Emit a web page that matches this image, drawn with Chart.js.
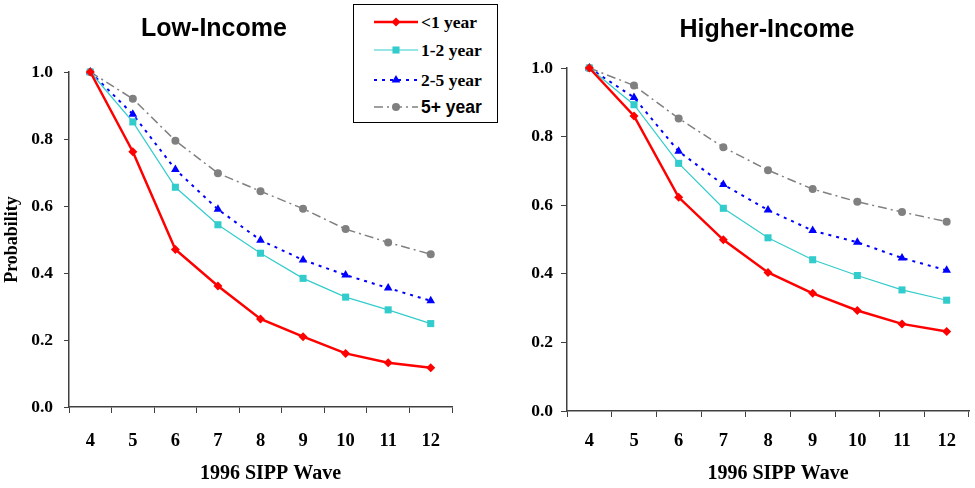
<!DOCTYPE html>
<html>
<head>
<meta charset="utf-8">
<script src="https://cdn.jsdelivr.net/npm/chart.js@4/dist/chart.umd.min.js"></script>
<style>
  html, body { margin: 0; padding: 0; background: #fff; }
  #wrap { position: relative; width: 975px; height: 488px; overflow: hidden; }
  .cv { position: absolute; top: 0; }
  .ttl { position: absolute; font-family: "Liberation Sans", Arial, sans-serif; font-weight: bold; font-size: 25px; color: #000; white-space: nowrap; transform: translate(-50%, -50%); }
  #legend { position: absolute; left: 353px; top: 4px; width: 145px; height: 119px; box-sizing: border-box; border: 1.5px solid #000; background: #fff; z-index: 5; }
</style>
</head>
<body>
<div id="wrap">
  <div class="cv" style="left:0;width:490px;height:488px;"><canvas id="c1" width="490" height="488"></canvas></div>
  <div class="cv" style="left:490px;width:485px;height:488px;"><canvas id="c2" width="485" height="488"></canvas></div>
  <div class="ttl" id="t1" style="left:214px;top:27px;"></div>
  <div class="ttl" id="t2" style="left:767px;top:28px;"></div>
  <div id="legend"></div>
</div>
<script>
// ---- data ----
const waves = ['4','5','6','7','8','9','10','11','12'];
const seriesNames = ['<1 year', '1-2 year', '2-5 year', '5+ year'];
const panelTitles = ['Low-Income', 'Higher-Income'];
const xAxisTitle = '1996 SIPP Wave';
const yAxisTitle = 'Probability';

const lowLt1   = [1.0, 0.762, 0.470, 0.361, 0.263, 0.210, 0.160, 0.132, 0.117];
const low1to2  = [1.0, 0.851, 0.656, 0.544, 0.459, 0.384, 0.328, 0.290, 0.249];
const low2to5  = [1.0, 0.874, 0.709, 0.590, 0.498, 0.439, 0.394, 0.355, 0.317];
const low5plus = [1.0, 0.920, 0.795, 0.698, 0.644, 0.592, 0.531, 0.491, 0.456];

const highLt1   = [1.0, 0.860, 0.623, 0.499, 0.404, 0.343, 0.293, 0.254, 0.232];
const high1to2  = [1.0, 0.893, 0.722, 0.591, 0.505, 0.441, 0.395, 0.353, 0.323];
const high2to5  = [1.0, 0.914, 0.757, 0.660, 0.586, 0.526, 0.492, 0.446, 0.410];
const high5plus = [1.0, 0.949, 0.853, 0.769, 0.702, 0.647, 0.610, 0.580, 0.552];

// ---- styles ----
const styles = [
  { color: '#FF0000', width: 2.5, dash: [], point: 'rectRot', r: 4.5 },
  { color: '#33CCCC', width: 1.2, dash: [], point: 'rect', r: 5 },
  { color: '#0000FF', width: 2, dash: [3, 5], point: 'triangle', r: 5 },
  { color: '#808080', width: 1.5, dash: [9, 4, 2, 4], point: 'circle', r: 4 }
];
const serif = '"Liberation Serif", "Times New Roman", serif';
const sans = '"Liberation Sans", Arial, sans-serif';
const axisColor = '#404040';

document.getElementById('t1').textContent = panelTitles[0];
document.getElementById('t2').textContent = panelTitles[1];

function makeDatasets(arrs) {
  return arrs.map((d, i) => ({
    label: seriesNames[i],
    data: d,
    borderColor: styles[i].color,
    backgroundColor: styles[i].color,
    borderWidth: styles[i].width,
    borderDash: styles[i].dash,
    pointStyle: styles[i].point,
    pointRadius: styles[i].r,
    pointBorderWidth: 0,
    pointBackgroundColor: styles[i].color,
    pointBorderColor: styles[i].color,
    tension: 0,
    fill: false,
    clip: false
  }));
}

// the axis title sits a little right of the plot centre in the reference
const titleShift = '\u00A0\u00A0\u00A0\u00A0';

function makeChart(id, datasets, o) {
  return new Chart(document.getElementById(id), {
    type: 'line',
    data: { labels: waves, datasets: datasets },
    options: {
      responsive: false,
      animation: false,
      devicePixelRatio: 1,
      layout: { padding: { top: o.top, right: o.right, left: 0, bottom: 0 } },
      plugins: { legend: { display: false }, title: { display: false }, tooltip: { enabled: false } },
      scales: {
        x: {
          type: 'category',
          offset: true,
          grid: { offset: true, drawOnChartArea: false, drawTicks: true, tickLength: 6, color: axisColor, lineWidth: 1 },
          border: { color: axisColor, width: 1.5 },
          ticks: { autoSkip: false, maxRotation: 0, color: '#000', padding: o.xPad, font: { family: serif, weight: 'bold', size: 18.5 } },
          title: { display: true, text: titleShift + xAxisTitle, color: '#000', padding: { top: 0, bottom: 2 }, font: { family: serif, weight: 'bold', size: 20 } },
          afterFit: (s) => { s.height = o.xH; }
        },
        y: {
          min: 0, max: 1,
          grid: { drawOnChartArea: false, drawTicks: true, tickLength: o.yTick, color: axisColor, lineWidth: 1 },
          border: { color: axisColor, width: 1.5 },
          ticks: { stepSize: 0.2, color: '#000', padding: o.yPad, font: { family: serif, weight: 'bold', size: 17.5 },
                   callback: (v) => Number(v).toFixed(1) },
          title: { display: o.yTitle, text: yAxisTitle, color: '#000', padding: { top: 2, bottom: 0 }, font: { family: serif, weight: 'bold', size: 18 } },
          afterFit: (s) => { s.width = o.yW; }
        }
      }
    }
  });
}

makeChart('c1', makeDatasets([lowLt1, low1to2, low2to5, low5plus]),
  { top: 72, right: 38, xH: 81, xPad: 17, yW: 69, yTick: 5, yPad: 11, yTitle: true });
makeChart('c2', makeDatasets([highLt1, high1to2, high2to5, high5plus]),
  { top: 68, right: 6, xH: 77, xPad: 13, yW: 77, yTick: 6, yPad: 8, yTitle: false });

// ---- legend (HTML/SVG) ----
(function buildLegend() {
  const NS = 'http://www.w3.org/2000/svg';
  const svg = document.createElementNS(NS, 'svg');
  svg.setAttribute('width', '142');
  svg.setAttribute('height', '116');
  svg.style.position = 'absolute';
  svg.style.left = '0';
  svg.style.top = '0';
  const rows = [17, 45, 75, 102];
  seriesNames.forEach((name, i) => {
    const st = styles[i];
    const y = rows[i];
    const line = document.createElementNS(NS, 'line');
    line.setAttribute('x1', 20); line.setAttribute('x2', 64);
    line.setAttribute('y1', y); line.setAttribute('y2', y);
    line.setAttribute('stroke', st.color);
    line.setAttribute('stroke-width', st.width);
    if (st.dash.length) line.setAttribute('stroke-dasharray', st.dash.join(' '));
    svg.appendChild(line);
    const cx = 42;
    let m;
    if (st.point === 'rectRot') {
      m = document.createElementNS(NS, 'polygon');
      const r = st.r;
      m.setAttribute('points', `${cx-r},${y} ${cx},${y-r} ${cx+r},${y} ${cx},${y+r}`);
    } else if (st.point === 'rect') {
      m = document.createElementNS(NS, 'rect');
      const h = st.r * Math.SQRT1_2;
      m.setAttribute('x', cx - h); m.setAttribute('y', y - h);
      m.setAttribute('width', 2 * h); m.setAttribute('height', 2 * h);
    } else if (st.point === 'triangle') {
      m = document.createElementNS(NS, 'polygon');
      const r = st.r;
      m.setAttribute('points', `${cx},${y-r} ${cx+r*0.87},${y+r*0.5} ${cx-r*0.87},${y+r*0.5}`);
    } else {
      m = document.createElementNS(NS, 'circle');
      m.setAttribute('cx', cx); m.setAttribute('cy', y); m.setAttribute('r', st.r);
    }
    m.setAttribute('fill', st.color);
    svg.appendChild(m);
    const t = document.createElementNS(NS, 'text');
    t.setAttribute('x', 67);
    t.setAttribute('y', y + 6);
    t.setAttribute('fill', '#000');
    t.setAttribute('font-weight', 'bold');
    t.setAttribute('font-size', '17.5');
    t.setAttribute('font-family', i === 3 ? sans : serif);
    t.textContent = name;
    svg.appendChild(t);
  });
  document.getElementById('legend').appendChild(svg);
})();
</script>
</body>
</html>
